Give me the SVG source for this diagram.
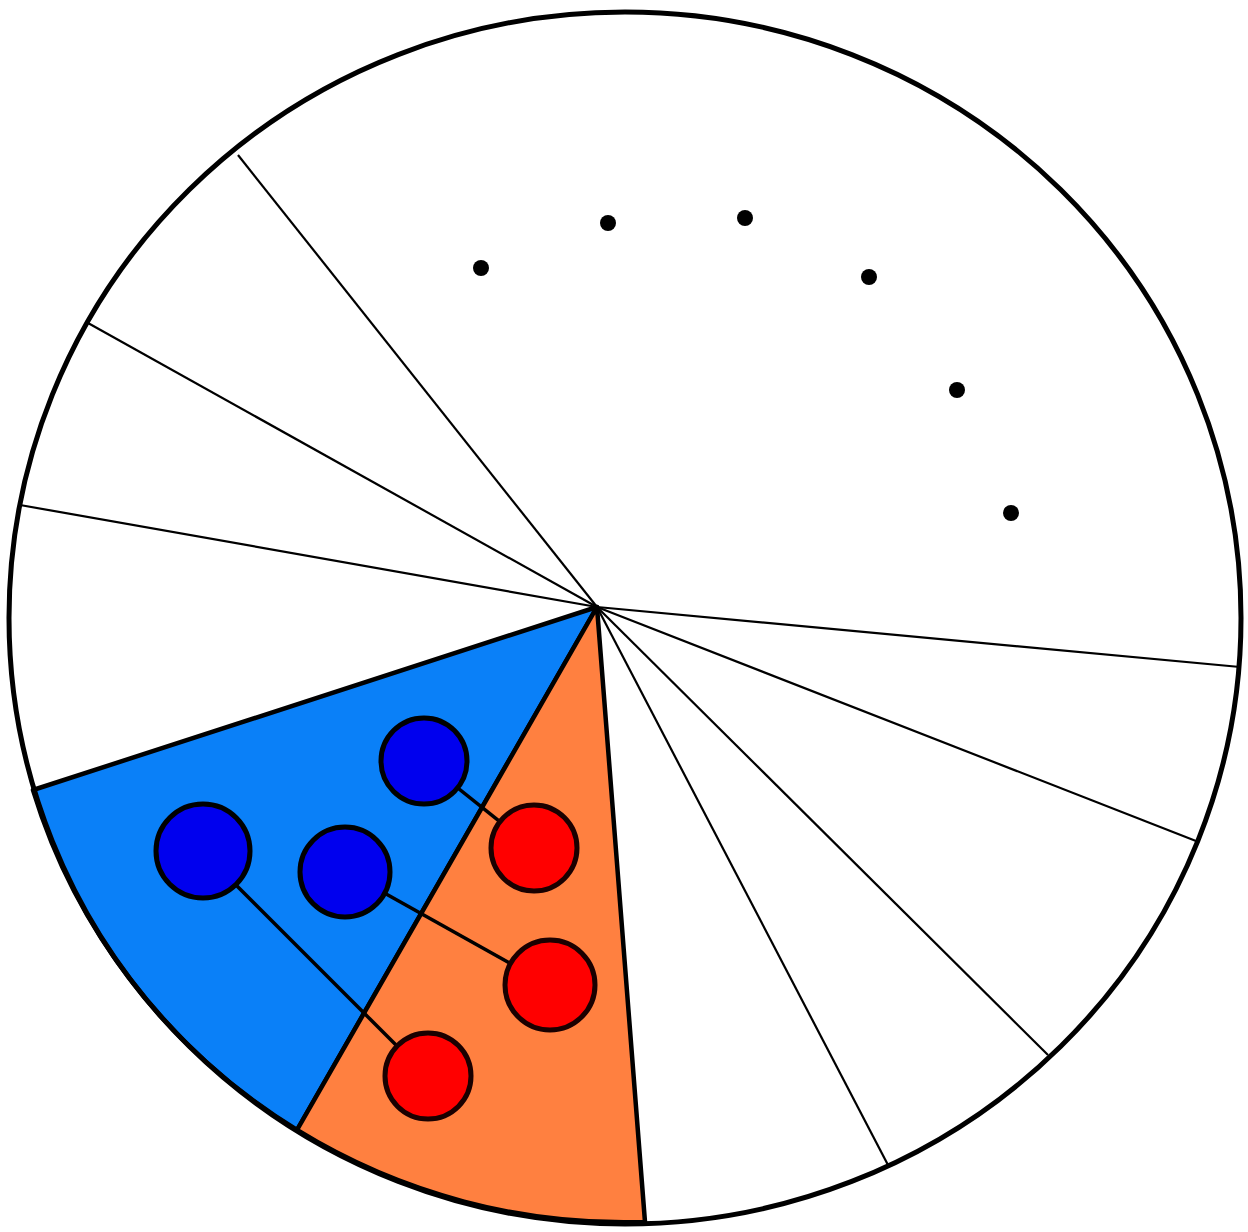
<svg xmlns="http://www.w3.org/2000/svg" width="1248" height="1232" viewBox="0 0 1248 1232">
<style>
.spoke{stroke:#000;stroke-width:2.2;fill:none}
.wedge{stroke:#000;stroke-width:4.5;stroke-linejoin:round}
.link{stroke:#000;stroke-width:3.5}
.bnode{fill:#0000EE;stroke:#000;stroke-width:5}
.rnode{fill:#FF0000;stroke:#1a0000;stroke-width:5}
.dot{fill:#000}
</style>
<rect width="1248" height="1232" fill="#fff"/>
<g id="wedges">
<path id="blue-wedge" class="wedge" fill="#0A80F8" d="M597,607 L33,790 A616,606 0 0 0 297,1130 Z"/>
<path id="orange-wedge" class="wedge" fill="#FF8040" d="M597,607 L297,1130 A616,606 0 0 0 645,1222 Z"/>
</g>
<g id="spokes">
<line class="spoke" x1="597" y1="607" x2="238" y2="155"/>
<line class="spoke" x1="597" y1="607" x2="88" y2="323"/>
<line class="spoke" x1="597" y1="607" x2="20" y2="505"/>
<line class="spoke" x1="597" y1="607" x2="1240" y2="667"/>
<line class="spoke" x1="597" y1="607" x2="1196" y2="841"/>
<line class="spoke" x1="597" y1="607" x2="1048" y2="1055"/>
<line class="spoke" x1="597" y1="607" x2="888" y2="1165"/>
</g>
<ellipse id="outline" cx="625" cy="618" rx="616" ry="606" fill="none" stroke="#000" stroke-width="5"/>
<g id="connectors">
<line class="link" x1="424" y1="761" x2="533" y2="848"/>
<line class="link" x1="345" y1="871" x2="549" y2="985"/>
<line class="link" x1="203" y1="852" x2="427" y2="1076"/>
</g>
<g id="blue1"><circle class="bnode" cx="424" cy="761" r="43"/></g>
<g id="blue2"><circle class="bnode" cx="203" cy="851" r="47"/></g>
<g id="blue3"><circle class="bnode" cx="345" cy="872" r="45"/></g>
<g id="red1"><circle class="rnode" cx="534" cy="848" r="43"/></g>
<g id="red2"><circle class="rnode" cx="550" cy="985" r="45"/></g>
<g id="red3"><circle class="rnode" cx="428" cy="1076" r="43"/></g>
<g id="dots">
<circle class="dot" cx="481" cy="268" r="8"/>
<circle class="dot" cx="608" cy="223" r="8"/>
<circle class="dot" cx="745" cy="218" r="8"/>
<circle class="dot" cx="869" cy="277" r="8"/>
<circle class="dot" cx="957" cy="390" r="8"/>
<circle class="dot" cx="1011" cy="513" r="8"/>
</g>
</svg>
